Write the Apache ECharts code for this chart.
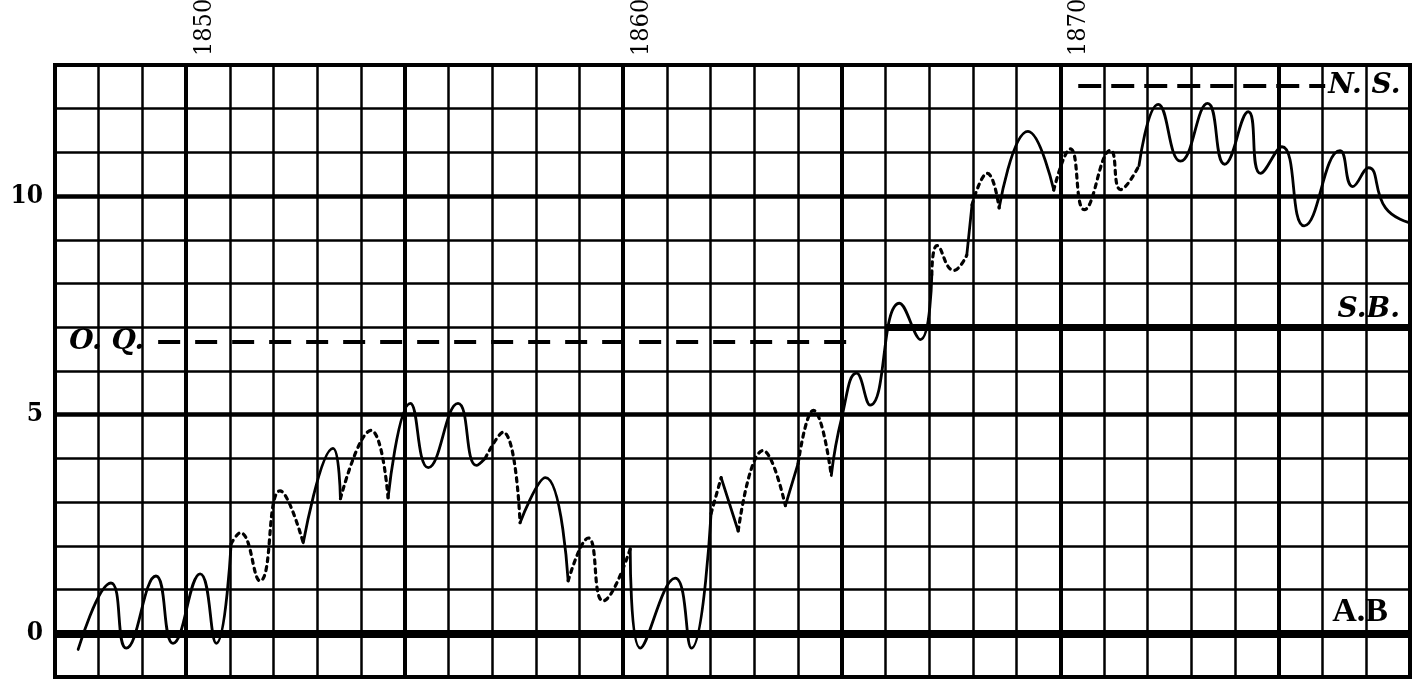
<!DOCTYPE html>
<html><head><meta charset="utf-8">
<script src="https://cdn.jsdelivr.net/npm/echarts@6/dist/echarts.min.js"></script>
<style>html,body{margin:0;padding:0;background:#fff}#c{width:1419px;height:693px}</style>
</head><body><div id="c"></div>
<script>
// ---- data ----
const yearLabels = [1850, 1860, 1870];
const valueLabels = [0, 5, 10];
const thickYears = [1850, 1855, 1860, 1865, 1870, 1875];
const thickValues = [5, 10];

const curveYears = [
  1847.53, 1848.28, 1848.63, 1849.31, 1849.70, 1850.32, 1850.69, 1851.03,
  1851.24, 1851.69, 1852.15, 1852.68, 1853.36, 1853.53, 1854.23, 1854.62,
  1855.13, 1855.54, 1856.22, 1856.64, 1856.84, 1857.25, 1857.64, 1858.22,
  1858.74, 1859.20, 1859.54, 1860.16, 1860.39, 1861.19, 1861.56, 1862.01,
  1862.24, 1862.63, 1863.20, 1863.71, 1864.00, 1864.35, 1864.76, 1865.00,
  1865.34, 1865.65, 1866.32, 1866.80, 1867.06, 1867.18, 1867.56, 1867.86,
  1867.98, 1868.33, 1868.60, 1869.26, 1869.85, 1870.23, 1870.55, 1871.15,
  1871.38, 1871.80, 1872.24, 1872.75, 1873.37, 1873.76, 1874.30, 1874.58,
  1875.07, 1875.58, 1876.40, 1876.69, 1877.05, 1877.44, 1877.96
];
const curveValues = [
  -0.37, 1.15, -0.34, 1.31, -0.23, 1.36, -0.23, 2.05,
  2.30, 1.20, 3.26, 2.07, 4.23, 3.08, 4.64, 3.10,
  5.26, 3.79, 5.26, 3.84, 4.00, 4.60, 2.53, 3.56,
  1.20, 2.18, 0.74, 1.93, -0.34, 1.26, -0.34, 2.74,
  3.56, 2.34, 4.18, 2.92, 3.88, 5.10, 3.61, 4.94,
  5.95, 5.22, 7.55, 6.72, 8.20, 8.87, 8.30, 8.65,
  9.80, 10.52, 9.73, 11.48, 10.14, 11.08, 9.69, 11.05,
  10.15, 10.70, 12.10, 10.80, 12.12, 10.73, 11.93, 10.52,
  11.13, 9.32, 11.04, 10.22, 10.65, 9.73, 9.40
];
// style of each segment between consecutive points: s = solid, d = dotted
const curveStyle =
  "sssssss" + "dddd" + "ss" + "dd" + "sssss" + "dd" + "ss" + "ddd" + "ssss" +
  "d" + "s" + "dd" + "s" + "dd" + "ssssss" + "ddd" + "s" + "dd" + "ss" +
  "ddddd" + "sssssssssssss";

// reference lines
const refNames = ['O. Q.', 'N. S.', 'S.B.', 'A.B'];
const refValues = [6.67, 12.53, 7, 0];
const refFrom = [1849.36, 1870.41, 1866.0, 1847];
const refTo = [1865.38, 1876.06, 1878, 1878];

// ---- build ----
const runs = [];
let cur = null;
for (let i = 0; i < curveStyle.length; i++) {
  const st = curveStyle[i];
  if (!cur || cur.style !== st) {
    cur = { style: st, pts: [[curveYears[i], curveValues[i]]] };
    runs.push(cur);
  }
  cur.pts.push([curveYears[i + 1], curveValues[i + 1]]);
}
const curveSeries = runs.map(r => ({
  type: 'line', data: r.pts, smooth: 0.5, symbol: 'none', silent: true, z: 5,
  lineStyle: { color: '#000', width: r.style === 's' ? 2.8 : 3.2, type: r.style === 's' ? 'solid' : [4, 5], cap: 'round' }
}));

const scriptFont = { fontFamily: "'DejaVu Serif', serif", fontStyle: 'italic', fontWeight: 'bold', fontSize: 28, color: '#000' };
const mlData = [];
thickYears.forEach(y => mlData.push({ xAxis: y, lineStyle: { width: 4 } }));
thickValues.forEach(v => mlData.push({ yAxis: v, lineStyle: { width: 4.5 } }));
// O.Q. dashed
mlData.push([
  { coord: [refFrom[0], refValues[0]], lineStyle: { width: 4, type: [22, 15] },
    label: Object.assign({ show: true, position: 'start', distance: 14, formatter: refNames[0] }, scriptFont) },
  { coord: [refTo[0], refValues[0]] }
]);
// N.S. dashed
mlData.push([
  { coord: [refFrom[1], refValues[1]], lineStyle: { width: 4, type: [23, 10] },
    label: Object.assign({ show: true, position: 'end', distance: 3, formatter: refNames[1] }, scriptFont) },
  { coord: [refTo[1], refValues[1]] }
]);
// S.B. thick
mlData.push([
  { coord: [refFrom[2], refValues[2]], lineStyle: { width: 7, type: 'solid' },
    label: Object.assign({ show: true, position: 'insideEndTop', distance: 4, formatter: refNames[2], padding: [0, 6, 0, 0] }, scriptFont) },
  { coord: [refTo[2], refValues[2]] }
]);
// A.B thick
mlData.push([
  { coord: [refFrom[3], refValues[3]], lineStyle: { width: 8, type: 'solid' },
    label: { show: true, position: 'insideEndTop', distance: 4, formatter: refNames[3], padding: [0, 18, 0, 0],
      fontFamily: "'Liberation Serif', serif", fontWeight: 'bold', fontSize: 34, color: '#000' } },
  { coord: [refTo[3], refValues[3]] }
]);

const refSeries = {
  type: 'line', data: [], symbol: 'none', silent: true, z: 4,
  markLine: {
    silent: true, symbol: ['none', 'none'], animation: false,
    lineStyle: { color: '#000', type: 'solid' },
    label: { show: false },
    data: mlData
  }
};

const labelFont = "'DejaVu Serif Condensed', 'Liberation Serif', serif";
const option = {
  animation: false,
  backgroundColor: '#fff',
  grid: { left: 55, right: 9, top: 65, bottom: 16, show: true, borderColor: '#000', borderWidth: 4,
          containLabel: false, outerBoundsMode: 'none' },
  xAxis: {
    type: 'value', position: 'top', min: 1847, max: 1878, interval: 1,
    axisLine: { show: false }, axisTick: { show: false },
    splitLine: { show: true, lineStyle: { color: '#000', width: 2.5 } },
    axisLabel: {
      rotate: 90, margin: 9, fontSize: 25, fontFamily: labelFont, color: '#000',
      verticalAlign: 'top', lineHeight: 36,
      formatter: v => yearLabels.includes(Math.round(v)) ? String(Math.round(v)) : ''
    }
  },
  yAxis: {
    type: 'value', min: -1, max: 13, interval: 1,
    axisLine: { show: false }, axisTick: { show: false },
    splitLine: { show: true, lineStyle: { color: '#000', width: 2.5 } },
    axisLabel: {
      margin: 12, fontSize: 26, fontWeight: 'bold', fontFamily: labelFont, color: '#000',
      formatter: v => valueLabels.includes(Math.round(v)) ? String(Math.round(v)) : ''
    }
  },
  series: [refSeries].concat(curveSeries)
};
const chart = echarts.init(document.getElementById('c'), null, { renderer: 'canvas' });
chart.setOption(option);
</script>
</body></html>
